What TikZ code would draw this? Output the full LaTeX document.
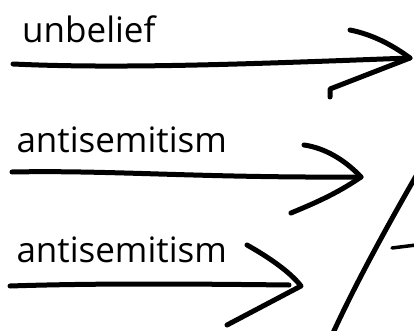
\documentclass[tikz,border=0pt]{standalone}
\usepackage{fontspec}
\setmainfont{Open Sans}
\begin{document}
\begin{tikzpicture}[x=1pt,y=-1pt,
  lbl/.style={anchor=base west,inner sep=0pt,font=\fontsize{35}{39}\selectfont},
  ink/.style={line width=5pt,line cap=round,line join=round,black}]
\useasboundingbox (0,0) rectangle (414,331);
% labels
\node[lbl] (t1) at (22,42.7) {unbelief};
\node[lbl] (t2) at (16.3,152.5) {antisemitism};
\node[lbl] (t3) at (16.3,262.5) {antisemitism};
% coordinates
\coordinate (s1) at (13,64);
\coordinate (e1) at (410,58);
\coordinate (u1) at (350,30);
\coordinate (l1) at (330,89);
\coordinate (s2) at (12,172);
\coordinate (e2) at (361,177);
\coordinate (u2) at (304,145);
\coordinate (l2) at (291,213);
\coordinate (s3) at (10,286);
\coordinate (m3) at (289,285);
\coordinate (e3) at (301,286);
\coordinate (u3) at (247,245);
\coordinate (l3) at (227,325);
\coordinate (d1) at (416,176);
\coordinate (d2) at (333,333);
\coordinate (k1) at (392,248);
\coordinate (k2) at (416,245);
% arrow 1
\draw[ink] (s1) .. controls (120,69) and (250,64) .. (e1);
\draw[ink] (u1) .. controls (375,35) and (395,47) .. (e1) -- (l1) -- ++(0,8);
% arrow 2
\draw[ink] (s2) .. controls (110,170) and (200,178) .. (e2);
\draw[ink] (u2) .. controls (325,148) and (345,160) .. (e2) .. controls (335,195) and (310,205) .. (l2);
% arrow 3
\draw[ink] (s3) .. controls (100,283) and (200,284) .. (m3);
\draw[ink] (u3) .. controls (270,258) and (290,272) .. (e3) -- (l3);
% diagonal
\draw[ink] (d1) .. controls (385,230) and (355,285) .. (d2);
\draw[ink,line width=3.5pt] (k1) -- (k2);
\end{tikzpicture}
\end{document}
